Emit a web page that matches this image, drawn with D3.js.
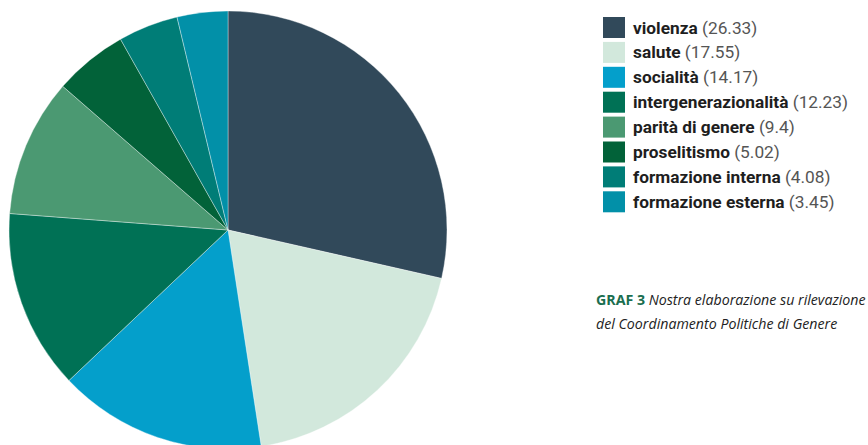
<!DOCTYPE html>
<html>
<head>
<meta charset="utf-8">
<script src="https://cdn.jsdelivr.net/npm/d3@7"></script>
<style>
  body { margin: 0; background: #fff; }
  svg { display: block; }
</style>
</head>
<body>
<div id="chart"></div>
<script>
var categories = ["violenza", "salute", "socialità", "intergenerazionalità", "parità di genere", "proselitismo", "formazione interna", "formazione esterna"];
var values = [26.33, 17.55, 14.17, 12.23, 9.4, 5.02, 4.08, 3.45];
var colors = ["#31495a", "#d2e8dc", "#049fcb", "#007155", "#4b9972", "#026239", "#007d77", "#0290a8"];
var captionBold = "GRAF 3";
var captionLines = ["Nostra elaborazione su rilevazione", "del Coordinamento Politiche di Genere"];

var width = 868, height = 445,
    cx = 228, cy = 230, radius = 219;

var data = categories.map(function(c, i) { return { name: c, value: values[i] }; });

var svg = d3.select("#chart").append("svg")
    .attr("width", width)
    .attr("height", height);

var color = d3.scaleOrdinal()
    .domain(categories)
    .range(colors);

var pie = d3.pie()
    .sort(null)
    .value(function(d) { return d.value; });

var arc = d3.arc()
    .innerRadius(0)
    .outerRadius(radius);

svg.append("g")
    .attr("transform", "translate(" + cx + "," + cy + ")")
  .selectAll("path")
    .data(pie(data))
    .enter().append("path")
      .attr("d", arc)
      .style("fill", function(d) { return color(d.data.name); })
      .style("stroke", "#fff")
      .style("stroke-opacity", 0.45)
      .style("stroke-width", 0.8);

// legend
var legend = svg.append("g")
    .attr("transform", "translate(603,17)");

var rows = legend.selectAll(".row")
    .data(data)
    .enter().append("g")
      .attr("class", "row")
      .attr("transform", function(d, i) { return "translate(0," + (i * 24.9) + ")"; });

rows.append("rect")
    .attr("width", 22)
    .attr("height", 21)
    .style("fill", function(d) { return color(d.name); });

var label = rows.append("text")
    .attr("x", 30)
    .attr("y", 16.5)
    .style("font-family", "Roboto, sans-serif")
    .style("font-size", "17.3px");

label.append("tspan")
    .style("font-weight", "bold")
    .style("fill", "#1e1e1e")
    .text(function(d) { return d.name; });

label.append("tspan")
    .style("fill", "#555")
    .text(function(d) { return " (" + d.value + ")"; });

// caption
var caption = svg.append("g")
    .attr("transform", "translate(596,0)")
    .style("font-family", "'Open Sans', sans-serif")
    .style("font-size", "14.2px");

var line1 = caption.append("text")
    .attr("y", 305);

line1.append("tspan")
    .style("font-weight", "bold")
    .style("fill", "#1a6e4f")
    .text(captionBold + " ");

line1.append("tspan")
    .style("font-style", "italic")
    .style("fill", "#222")
    .text(captionLines[0]);

caption.append("text")
    .attr("y", 329)
    .style("font-style", "italic")
    .style("fill", "#222")
    .text(captionLines[1]);
</script>
</body>
</html>
